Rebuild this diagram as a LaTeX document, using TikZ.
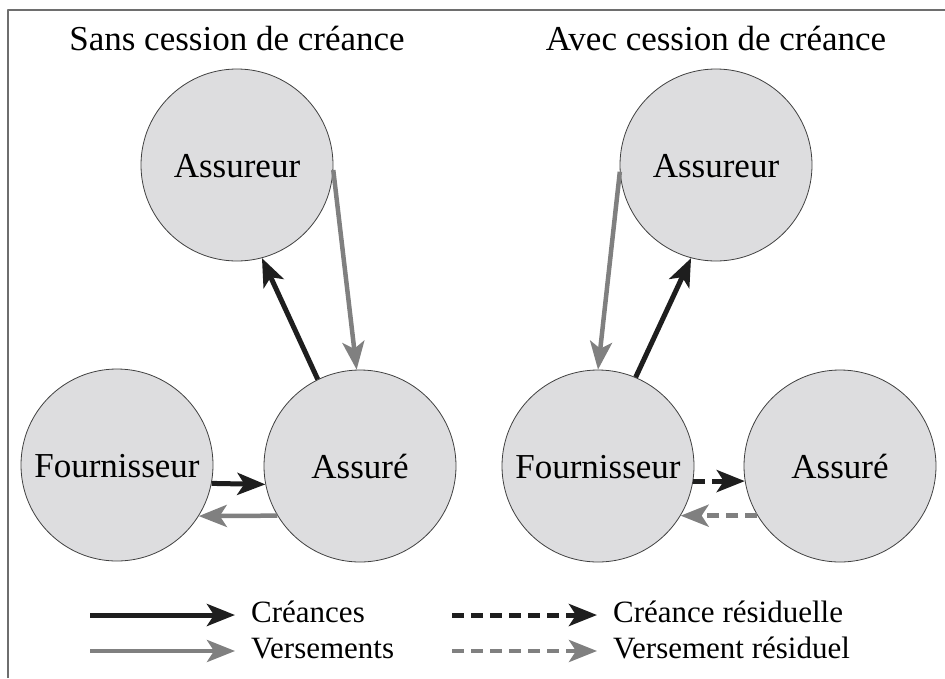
\documentclass[tikz,border=0pt]{standalone}
\usepackage{fontspec}
\setmainfont{Liberation Serif}
\usetikzlibrary{arrows.meta}
\definecolor{fondcercle}{RGB}{221,221,223}
\definecolor{grisvers}{RGB}{128,128,128}
\definecolor{noircre}{RGB}{30,30,30}
\definecolor{griscadre}{RGB}{110,110,110}
\begin{document}
\begin{tikzpicture}[x=1pt,y=-1pt,>={Stealth[length=28pt,width=22pt,inset=7pt]}, line join=round,
	acteur/.style={circle,draw=black!75,line width=0.8pt,fill=fondcercle,minimum size=192pt,inner sep=0pt,font=\fontsize{35}{40}\selectfont,text height=24pt,text depth=0pt},
	titre/.style={anchor=base,font=\fontsize{35}{40}\selectfont},
	legende/.style={anchor=west,inner xsep=16pt,font=\fontsize{31}{36}\selectfont,text height=22pt,text depth=8pt},
	cre/.style={->,draw=noircre,line width=5pt},
	vers/.style={->,draw=grisvers,line width=4.5pt},
	creres/.style={cre,dash pattern=on 12pt off 7pt},
	versres/.style={vers,dash pattern=on 12pt off 7pt}]
	\useasboundingbox (0,0) rectangle (945,678);
	\draw[griscadre,line width=2pt] (8,678)--(8,10)--(945,10);% cadre
	% sans cession
	\node[titre] (titreS) at (237,50) {Sans cession de créance};
	\node[acteur] (assureurS) at (237,165) {Assureur};
	\node[acteur] (fournS) at (117,465) {Fournisseur};
	\node[acteur] (assureS) at (360,466) {Assuré};
	\draw[cre] (assureS.116)--(assureurS.-75);
	\draw[vers] (assureurS.-3)--(assureS.92);
	\draw[cre] (fournS.-11)--(assureS.-169);
	\draw[vers] (assureS.-149)--(fournS.-32);
	% avec cession
	\node[titre] (titreA) at (716,50) {Avec cession de créance};
	\node[acteur] (assureurA) at (716,165) {Assureur};
	\node[acteur] (fournA) at (598,466) {Fournisseur};
	\node[acteur] (assureA) at (840,466) {Assuré};
	\draw[vers] (assureurA.-176)--(fournA.90);
	\draw[cre] (fournA.67)--(assureurA.-105);
	\draw[creres] (fournA.-9)--(assureA.-171);
	\draw[versres] (assureA.-149)--(fournA.-31);
	% legende
	\foreach \nom/\x/\y/\sty/\txt in {lgA/90/615/cre/Créances, lgB/90/651/vers/Versements, lgC/452/615/creres/Créance résiduelle, lgD/452/651/versres/Versement résiduel}{
		\coordinate (\nom) at (\x,\y);
		\node[legende] (\nom t) at (\x+145,\y) {\txt};
		\draw[\sty] (\nom)--(\nom t.west);
	}
\end{tikzpicture}
\end{document}
